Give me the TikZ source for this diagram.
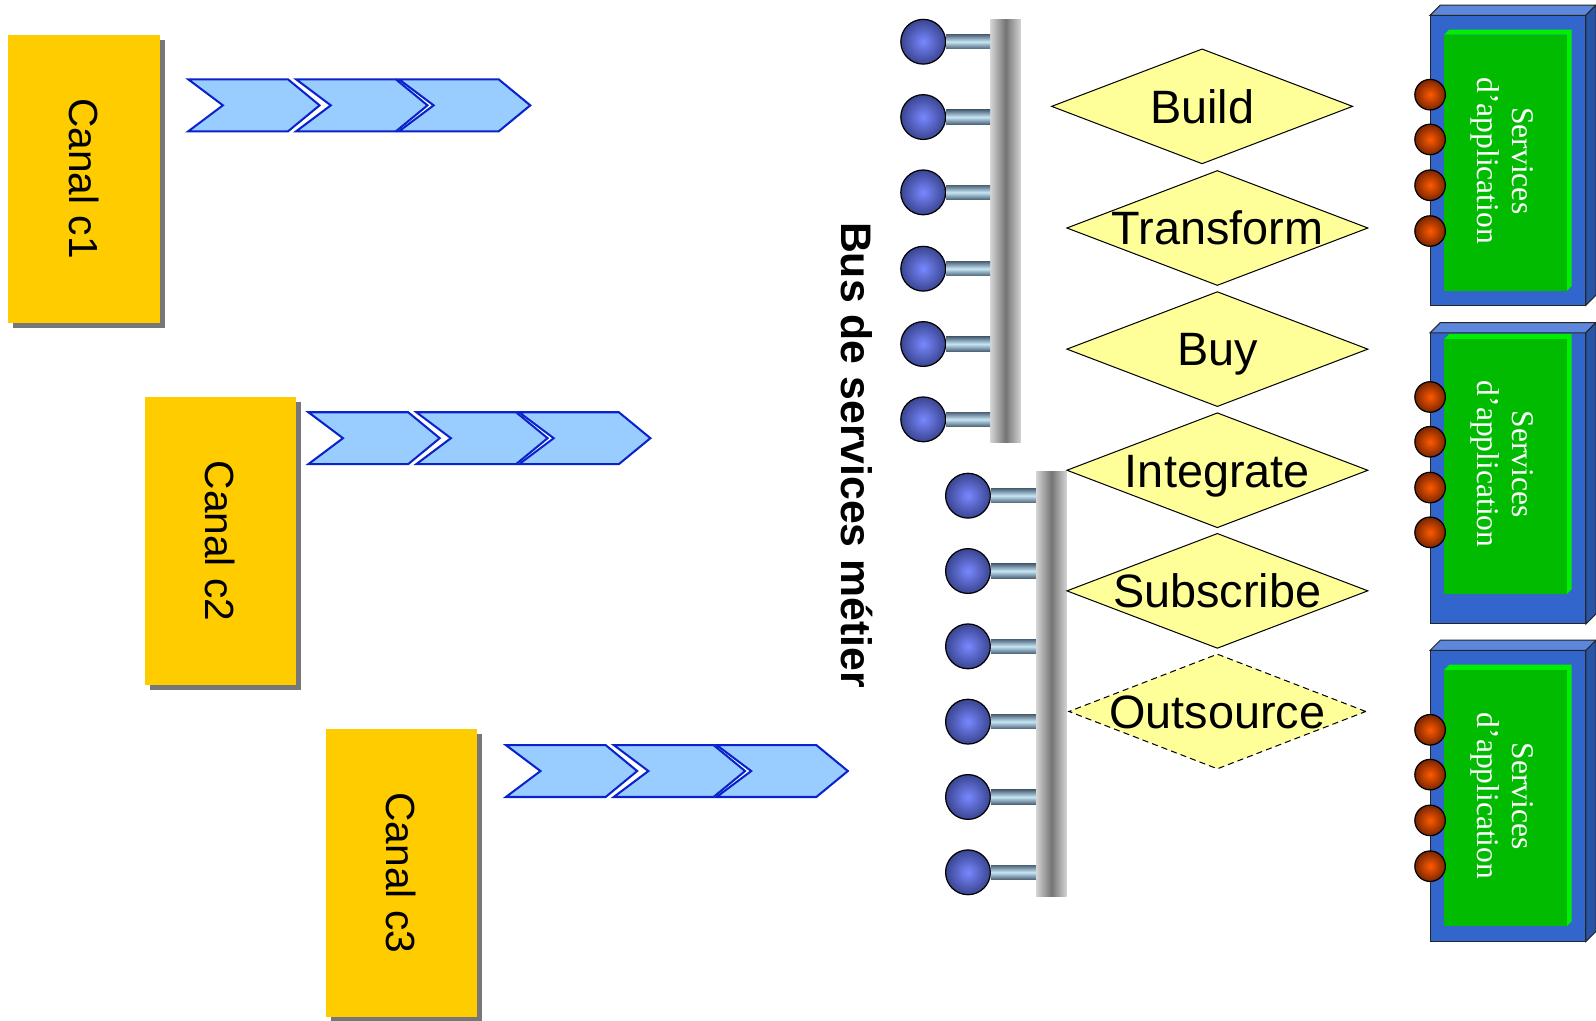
\documentclass[tikz,border=0pt]{standalone}
\usepackage{fontspec}
\setmainfont{Liberation Sans}
\newfontfamily\timesfont{Liberation Serif}
\usepackage{tikz}
\usetikzlibrary{shapes.geometric,shadows,calc}

\definecolor{canalyellow}{HTML}{FFCC00}
\definecolor{shadowgray}{HTML}{777777}
\definecolor{chevfill}{HTML}{99CCFF}
\definecolor{chevline}{HTML}{0A22CC}
\definecolor{optfill}{HTML}{FFFF99}
\definecolor{barlight}{HTML}{D4D4D4}
\definecolor{bardark}{HTML}{747474}
\definecolor{stemlight}{HTML}{C6E6F6}
\definecolor{stemdark}{HTML}{4E6478}
\definecolor{knobin}{HTML}{7888FF}
\definecolor{knobout}{HTML}{3A4590}
\definecolor{portin}{HTML}{FF5A00}
\definecolor{portout}{HTML}{7A2500}
\definecolor{appfront}{HTML}{3366CC}
\definecolor{apptop}{HTML}{5C87DA}
\definecolor{appside}{HTML}{2A54A6}
\definecolor{appgreen}{HTML}{00BB00}
\definecolor{appbright}{HTML}{00EE00}

\begin{document}
\begin{tikzpicture}[x=1pt,y=-1pt]
\tikzset{canal/.style = {rectangle,fill=canalyellow,minimum width=149pt,minimum height=283pt,
  drop shadow={shadow xshift=5pt,shadow yshift=-5pt,fill=shadowgray,opacity=1}}}
\tikzset{canaltext/.style = {rotate=-90,inner sep=0pt,text height=29pt,text depth=0pt,
  font=\fontsize{40}{44}\selectfont}}
\tikzset{chev/.style = {draw=chevline,fill=chevfill,line width=2pt}}
\tikzset{bus/.style = {rectangle,inner sep=0pt,minimum width=30pt,minimum height=416pt,
  left color=barlight,right color=barlight,middle color=bardark}}
\tikzset{knob/.style = {circle,draw=black,line width=1.2pt,minimum size=44pt,inner sep=0pt,
  inner color=knobin,outer color=knobout}}
\tikzset{stem/.style = {top color=stemdark,bottom color=stemdark,middle color=stemlight}}
\tikzset{opt/.style = {diamond,draw=black,line width=1pt,fill=optfill,inner sep=0pt,
  minimum width=296pt,minimum height=113pt}}
\tikzset{opttext/.style = {inner sep=0pt,text height=33pt,text depth=0pt,
  font=\fontsize{46}{50}\selectfont}}
\tikzset{appedge/.style = {draw=black!85,line width=1pt}}
\tikzset{apptext/.style = {rotate=-90,align=center,text=white,inner sep=0pt,
  font=\timesfont\fontsize{31}{34}\selectfont}}
\tikzset{port/.style = {circle,draw=black,line width=1.2pt,minimum size=30pt,inner sep=0pt,
  inner color=portin,outer color=portout}}

\useasboundingbox (0,0) rectangle (1568,1003);

% canaux
\node[canal] (c1) at (82.5,175.5) {};
\node[canaltext] (c1txt) at (c1) {Canal c1};
\node[canal] (c2) at (216.5,531.5) {};
\node[canaltext] (c2txt) at (c2) {Canal c2};
\node[canal] (c3) at (394.5,857.5) {};
\node[canaltext] (c3txt) at (c3) {Canal c3};

% chevrons
\draw[chev] (185,78) -- ++(98,0) -- ++(31,25.5) -- ++(-31,25.5) -- ++(-98,0) -- ++(34,-25.5) -- cycle;
\draw[chev] (291,78) -- ++(98,0) -- ++(31,25.5) -- ++(-31,25.5) -- ++(-98,0) -- ++(34,-25.5) -- cycle;
\draw[chev] (392,78) -- ++(98,0) -- ++(31,25.5) -- ++(-31,25.5) -- ++(-98,0) -- ++(34,-25.5) -- cycle;
\draw[chev] (303,405) -- ++(98,0) -- ++(31,25.5) -- ++(-31,25.5) -- ++(-98,0) -- ++(34,-25.5) -- cycle;
\draw[chev] (409,405) -- ++(98,0) -- ++(31,25.5) -- ++(-31,25.5) -- ++(-98,0) -- ++(34,-25.5) -- cycle;
\draw[chev] (510,405) -- ++(98,0) -- ++(31,25.5) -- ++(-31,25.5) -- ++(-98,0) -- ++(34,-25.5) -- cycle;
\draw[chev] (497,732) -- ++(98,0) -- ++(31,25.5) -- ++(-31,25.5) -- ++(-98,0) -- ++(34,-25.5) -- cycle;
\draw[chev] (603,732) -- ++(98,0) -- ++(31,25.5) -- ++(-31,25.5) -- ++(-98,0) -- ++(34,-25.5) -- cycle;
\draw[chev] (704,732) -- ++(98,0) -- ++(31,25.5) -- ++(-31,25.5) -- ++(-98,0) -- ++(34,-25.5) -- cycle;

% bus
\node[rotate=-90,inner sep=0pt,text height=30pt,text depth=0pt,
  font=\bfseries\fontsize{42}{46}\selectfont] (buslabel) at (842,447) {Bus de services métier};
\node[bus] (bus1) at (988,227) {};
\node[bus,minimum height=418pt] (bus2) at (1033,672) {};

\node[knob] (k1) at (907,41) {};
\node[knob] (k2) at (907,115) {};
\node[knob] (k3) at (907,189) {};
\node[knob] (k4) at (907,264) {};
\node[knob] (k5) at (907,338) {};
\node[knob] (k6) at (907,412) {};
\node[knob] (k7) at (951,487) {};
\node[knob] (k8) at (951,561) {};
\node[knob] (k9) at (951,635) {};
\node[knob] (k10) at (951,709) {};
\node[knob] (k11) at (951,783) {};
\node[knob] (k12) at (951,857) {};
\shade[stem] ($(k1.east)+(0,-7)$) rectangle ($(k1.east -| bus1.west)+(0,7)$);
\shade[stem] ($(k2.east)+(0,-7)$) rectangle ($(k2.east -| bus1.west)+(0,7)$);
\shade[stem] ($(k3.east)+(0,-7)$) rectangle ($(k3.east -| bus1.west)+(0,7)$);
\shade[stem] ($(k4.east)+(0,-7)$) rectangle ($(k4.east -| bus1.west)+(0,7)$);
\shade[stem] ($(k5.east)+(0,-7)$) rectangle ($(k5.east -| bus1.west)+(0,7)$);
\shade[stem] ($(k6.east)+(0,-7)$) rectangle ($(k6.east -| bus1.west)+(0,7)$);
\shade[stem] ($(k7.east)+(0,-7)$) rectangle ($(k7.east -| bus2.west)+(0,7)$);
\shade[stem] ($(k8.east)+(0,-7)$) rectangle ($(k8.east -| bus2.west)+(0,7)$);
\shade[stem] ($(k9.east)+(0,-7)$) rectangle ($(k9.east -| bus2.west)+(0,7)$);
\shade[stem] ($(k10.east)+(0,-7)$) rectangle ($(k10.east -| bus2.west)+(0,7)$);
\shade[stem] ($(k11.east)+(0,-7)$) rectangle ($(k11.east -| bus2.west)+(0,7)$);
\shade[stem] ($(k12.east)+(0,-7)$) rectangle ($(k12.east -| bus2.west)+(0,7)$);

% options
\node[opt] (build) at (1181,104.5) {};
\node[opttext] (buildtxt) at (build) {Build};
\node[opt] (transform) at (1196,224) {};
\node[opttext] (transformtxt) at (transform) {Transform};
\node[opt] (buy) at (1196,343) {};
\node[opttext] (buytxt) at (buy) {Buy};
\node[opt] (integrate) at (1196,462) {};
\node[opttext] (integratetxt) at (integrate) {Integrate};
\node[opt] (subscribe) at (1196,580.5) {};
\node[opttext] (subscribetxt) at (subscribe) {Subscribe};
\node[opt,dashed,dash pattern=on 6pt off 4pt,minimum width=292pt] (outsource) at (1196,699) {};
\node[opttext] (outsourcetxt) at (outsource) {Outsource};

% services d'application
\filldraw[appedge,fill=appfront] (1405,15) rectangle (1558,300);
\filldraw[appedge,fill=apptop] (1405,15) -- (1415,5) -- (1568,5) -- (1558,15) -- cycle;
\filldraw[appedge,fill=appside] (1558,15) -- (1568,5) -- (1568,290) -- (1558,300) -- cycle;
\fill[appbright] (1419,34) -- (1424,29) -- (1544,29) -- (1544,281) -- (1539,286) -- (1539,34) -- cycle;
\fill[appgreen] (1419,34) rectangle (1539,286);
\node[apptext] (app1) at (1476,158) {Services\\d’application};

\filldraw[appedge,fill=appfront] (1405,327) rectangle (1558,613);
\filldraw[appedge,fill=apptop] (1405,327) -- (1415,317) -- (1568,317) -- (1558,327) -- cycle;
\filldraw[appedge,fill=appside] (1558,327) -- (1568,317) -- (1568,603) -- (1558,613) -- cycle;
\fill[appbright] (1419,333) -- (1424,328) -- (1544,328) -- (1544,579) -- (1539,584) -- (1539,333) -- cycle;
\fill[appgreen] (1419,333) rectangle (1539,584);
\node[apptext] (app2) at (1476,456) {Services\\d’application};

\filldraw[appedge,fill=appfront] (1405,639) rectangle (1558,925);
\filldraw[appedge,fill=apptop] (1405,639) -- (1415,629) -- (1568,629) -- (1558,639) -- cycle;
\filldraw[appedge,fill=appside] (1558,639) -- (1568,629) -- (1568,915) -- (1558,925) -- cycle;
\fill[appbright] (1419,658) -- (1424,653) -- (1544,653) -- (1544,905) -- (1539,910) -- (1539,658) -- cycle;
\fill[appgreen] (1419,658) rectangle (1539,910);
\node[apptext] (app3) at (1476,782) {Services\\d’application};

\node[port] (p1) at (1405,93) {};
\node[port] (p2) at (1405,137) {};
\node[port] (p3) at (1405,182) {};
\node[port] (p4) at (1405,227) {};
\node[port] (p5) at (1405,390) {};
\node[port] (p6) at (1405,434) {};
\node[port] (p7) at (1405,479) {};
\node[port] (p8) at (1405,523) {};
\node[port] (p9) at (1405,717) {};
\node[port] (p10) at (1405,761) {};
\node[port] (p11) at (1405,806) {};
\node[port] (p12) at (1405,851) {};
\end{tikzpicture}
\end{document}
